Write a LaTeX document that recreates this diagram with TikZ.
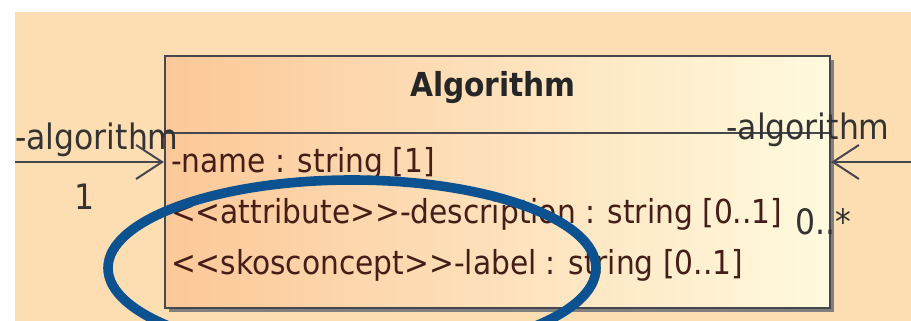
\documentclass[tikz,border=0pt]{standalone}
\usepackage{fontspec}
\setmainfont{DejaVu Sans Condensed}
\usetikzlibrary{arrows.meta}
\definecolor{peach}{RGB}{253,222,178}
\definecolor{boxleft}{RGB}{252,200,152}
\definecolor{boxright}{RGB}{255,250,222}
\definecolor{umlline}{RGB}{70,70,78}
\definecolor{attrtext}{RGB}{70,30,25}
\definecolor{markblue}{RGB}{12,82,144}
\begin{document}
\begin{tikzpicture}[x=0.5pt, y=-0.5pt, line width=1pt,
  class box/.style={draw=umlline, line width=1.1pt, left color=boxleft, right color=boxright, minimum width=332.5pt, minimum height=126pt, inner sep=0pt},
  title text/.style={font=\fontsize{16.5}{19}\selectfont\bfseries, text=black!85},
  attr text/.style={font=\fontsize{16.5}{19}\selectfont, text=attrtext, anchor=west, inner sep=0pt},
  role text/.style={font=\fontsize{17.5}{20}\selectfont, text=black!80, inner sep=0pt},
  assoc/.style={draw=umlline, -{Straight Barb[length=13pt, width=17pt, line width=1pt]}}]
\useasboundingbox (0,0) rectangle (911,321);
\fill[white] (0,0) rectangle (911,321);
\fill[peach] (15,12) rectangle (911,321);
% shadow of the class
\fill[black!50] (169,60) rectangle (834,312);
\node [class box](cls) at (497.5,182) {};
\draw[umlline, line width=1.1pt] (cls.west |- 0,133) -- (cls.east |- 0,133);
\node [title text](ttl) at (493,88) {Algorithm};
\node [attr text](a1) at (170,163) {-name : string [1]};
\node [attr text](a2) at (170,214) {<{}<attribute>{}>-description : string [0..1]};
\node [attr text](a3) at (170,265) {<{}<skosconcept>{}>-label : string [0..1]};
% associations
\coordinate (lend) at (15,162);
\coordinate (rend) at (911,162);
\path
    (lend) edge [assoc] (lend -| cls.west)
    (rend) edge [assoc] (rend -| cls.east)
         ;
\node [role text](rl1) at (97,140) {-algorithm};
\node [role text](ml1) at (85,197) {1};
\node [role text](rl2) at (808,130) {-algorithm};
\node [role text](ml2) at (823,222) {0..*};
\draw[markblue, line width=4.8pt] (352,268) ellipse [x radius=244, y radius=88];
\end{tikzpicture}
\end{document}
